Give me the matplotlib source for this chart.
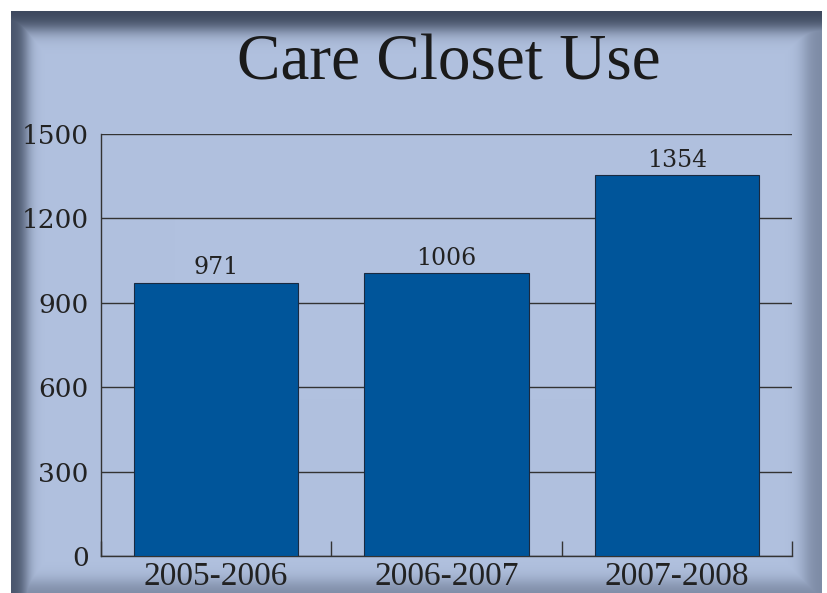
import matplotlib
matplotlib.use('Agg')
import matplotlib.pyplot as plt
import numpy as np

seasons = ['2005-2006', '2006-2007', '2007-2008']
visits = [971, 1006, 1354]
yticks = [0, 300, 600, 900, 1200, 1500]

W, H = 827, 593

def band(dist, a, w, s):
    return a / (1 + np.exp((dist - w) / s))

# background panel with a dark bevel round its edges
bg = np.ones((H, W, 3))
base = np.array([177, 193, 223]) / 255.0
dark = np.array([38, 48, 68]) / 255.0
x0, x1, y0, y1 = 11, 822, 11, 593
yy, xx = np.mgrid[0:H, 0:W]
d = np.maximum.reduce([
    band(yy - y0, 0.85, 18, 5),
    band(xx - x0, 0.75, 15, 4),
    band(x1 - xx, 0.38, 18, 5),
    band(y1 - yy, 0.38, 12, 5),
])
inside = (xx >= x0) & (xx < x1) & (yy >= y0)
panel = base * (1 - d[..., None]) + dark * d[..., None]
bg[inside] = panel[inside]

fig = plt.figure(figsize=(W / 100, H / 100), dpi=100)
bgax = fig.add_axes([0, 0, 1, 1])
bgax.imshow(bg, aspect='auto', interpolation='bilinear')
bgax.axis('off')

ax = fig.add_axes([101 / W, 1 - 556 / H, 691 / W, 422 / H])
ax.patch.set_alpha(0)
x = np.arange(len(seasons))
ax.bar(x, visits, width=0.714, color='#00559a', edgecolor='#1a2a40',
       linewidth=0.8, zorder=3)
for xi, v in zip(x, visits):
    ax.text(xi, v + 12, str(v), ha='center', va='bottom',
            fontsize=17, family='DejaVu Serif', color='#222222')

ax.set_xlim(-0.5, 2.5)
ax.set_ylim(0, 1500)
ax.set_yticks(yticks)
ax.set_yticklabels([str(t) for t in yticks], family='DejaVu Serif',
                   fontsize=19, color='#222222')
ax.yaxis.grid(True, color='#333333', linewidth=1.0, zorder=1)
ax.tick_params(axis='y', length=0, pad=9)

ax.set_xticks(x)
ax.set_xticklabels(seasons, family='Liberation Serif', fontsize=24,
                   color='#222222')
ax.set_xticks([-0.5, 0.5, 1.5, 2.5], minor=True)
ax.tick_params(axis='x', which='major', length=0, pad=4)
ax.tick_params(axis='x', which='minor', direction='in', length=11,
               color='#333333', width=1)

for s in ['top', 'right']:
    ax.spines[s].set_visible(False)
for s in ['left', 'bottom']:
    ax.spines[s].set_color('#333333')
    ax.spines[s].set_linewidth(1.0)

fig.text(449 / W, 1 - 80 / H, 'Care Closet Use', ha='center', va='baseline',
         fontsize=47, family='Liberation Serif', color='#1a1a1a')

fig.savefig('out.png', dpi=100)
